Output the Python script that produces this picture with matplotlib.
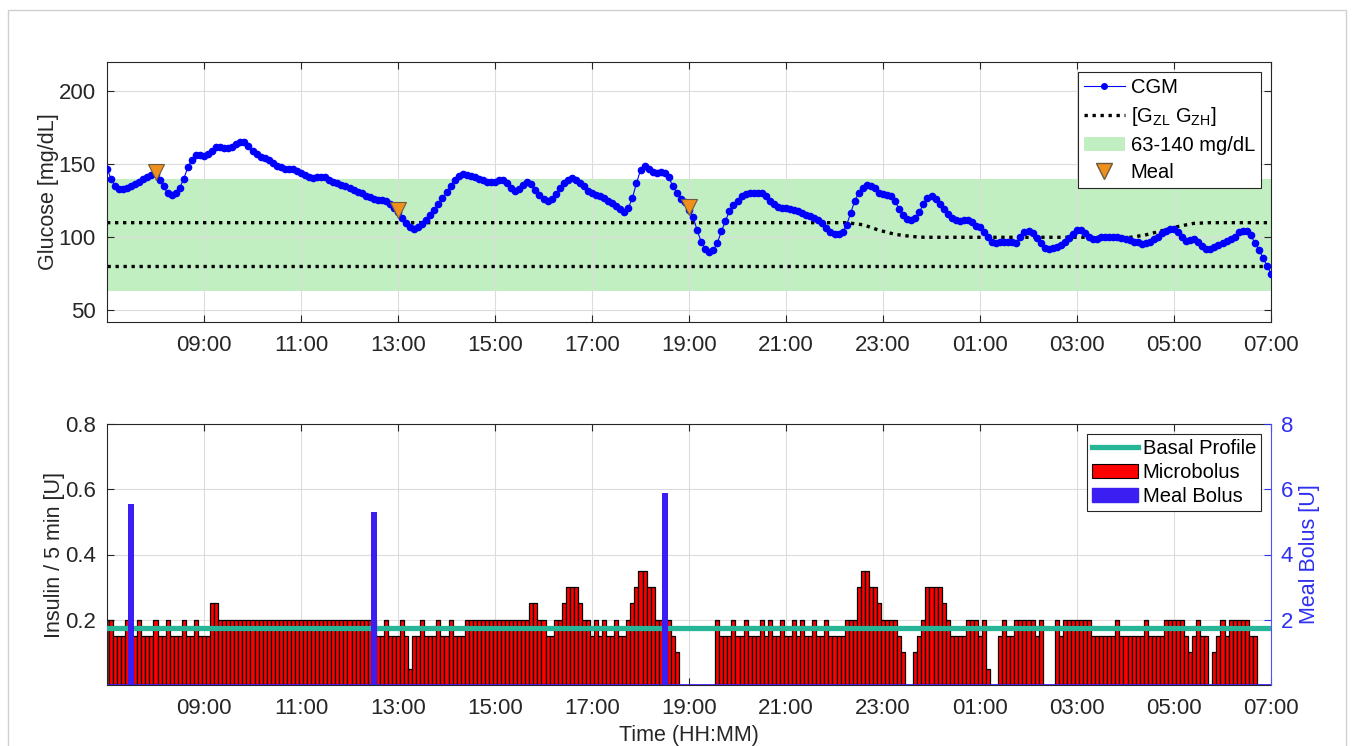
import numpy as np
import matplotlib
matplotlib.use('Agg')
import matplotlib.pyplot as plt
from matplotlib.lines import Line2D
from matplotlib.patches import Patch, Rectangle

plt.rcParams['font.family'] = ['Liberation Sans', 'DejaVu Sans']
plt.rcParams['mathtext.fontset'] = 'custom'
plt.rcParams['mathtext.rm'] = 'Liberation Sans'
plt.rcParams['mathtext.it'] = 'Liberation Sans'

# ---------------- data ----------------
# CGM every 5 min from 07:00 to 07:00 next day (mg/dL), one row per hour
cgm = [
    147, 140, 135, 133, 133, 134, 135, 136.5, 138, 140, 141.5, 142.5,
    143, 139, 135, 130, 129, 130, 134, 140, 148, 153, 156, 156,
    155.5, 157, 159, 161.5, 162, 161, 161, 162, 164, 165, 165, 162.5,
    159, 157, 155, 154.5, 153, 151, 149, 148, 147, 146.5, 146.5, 145.5,
    144, 142.5, 141.5, 140.5, 141, 141, 141, 139, 138, 137, 135.5, 135,
    134, 132.5, 131, 130, 128.5, 127.5, 126.5, 125.5, 125.5, 125, 122.5, 120,
    117, 113, 110, 107, 106, 107, 109, 112, 115, 119, 123, 127,
    131, 135, 139, 142, 143, 142.5, 142, 141, 140, 139, 138, 138,
    138, 139, 139, 137, 134, 132, 133, 135.5, 138, 136.5, 132.5, 129,
    126, 125, 126.5, 129.5, 133.5, 137, 139, 140.5, 139.5, 137.5, 135, 131.5,
    130.5, 129, 128, 127, 125, 123.5, 121.5, 119.5, 117.5, 120, 127, 137,
    146, 149, 147, 145, 144, 145, 144, 141, 135, 130.5, 126.5, 124,
    119, 114, 105, 97, 92, 90, 91, 96, 104, 111, 118, 122,
    125, 128, 129.5, 130, 130.5, 130.5, 130, 128, 125, 122.5, 121, 120,
    120, 119.5, 119, 118, 116.5, 115.5, 114.5, 113.5, 112, 110, 106.5, 103.5,
    102, 102, 103.5, 108.5, 116.5, 125, 130.5, 134, 136, 135, 133.5, 130.5,
    129.5, 129, 128.5, 124.5, 119.5, 115.5, 112.5, 112, 113.5, 117, 123, 127,
    128, 126.5, 123, 119.5, 116, 113.5, 111.5, 111, 111.5, 111.5, 110.5, 108,
    107, 103.5, 100, 97, 96, 96.5, 97, 97, 96.5, 96, 100, 103.5,
    104, 103, 99.5, 96, 93, 92, 92.5, 93.5, 94.5, 97, 99.5, 102.5,
    105, 105, 103, 100.5, 99, 99, 100, 100, 100, 100, 100, 99.5,
    99, 98, 97, 96.5, 95.5, 96, 97, 98.5, 100.5, 103, 104.5, 105.5,
    105.5, 103.5, 100, 97.5, 98, 98.5, 97, 94, 92, 92, 93.5, 95,
    96, 97.5, 99, 100.5, 103.5, 104.5, 104, 101.5, 96, 91.5, 86, 80.5,
    75,
]

# Microbolus every 5 min [U]
microbolus = [
    0.2, 0.2, 0.15, 0.15, 0.15, 0.2, 0.15, 0.15, 0.2, 0.15, 0.15, 0.15,
    0.2, 0.15, 0.15, 0.2, 0.15, 0.15, 0.15, 0.2, 0.15, 0.15, 0.2, 0.15,
    0.15, 0.15, 0.25, 0.25, 0.2, 0.2, 0.2, 0.2, 0.2, 0.2, 0.2, 0.2,
    0.2, 0.2, 0.2, 0.2, 0.2, 0.2, 0.2, 0.2, 0.2, 0.2, 0.2, 0.2,
    0.2, 0.2, 0.2, 0.2, 0.2, 0.2, 0.2, 0.2, 0.2, 0.2, 0.2, 0.2,
    0.2, 0.2, 0.2, 0.2, 0.2, 0.2, 0.2, 0.15, 0.15, 0.2, 0.15, 0.15,
    0.15, 0.2, 0.15, 0.05, 0.15, 0.15, 0.2, 0.15, 0.15, 0.15, 0.2, 0.15,
    0.15, 0.2, 0.15, 0.15, 0.15, 0.2, 0.2, 0.2, 0.2, 0.2, 0.2, 0.2,
    0.2, 0.2, 0.2, 0.2, 0.2, 0.2, 0.2, 0.2, 0.2, 0.25, 0.25, 0.2,
    0.2, 0.15, 0.15, 0.2, 0.2, 0.25, 0.3, 0.3, 0.3, 0.25, 0.2, 0.2,
    0.15, 0.2, 0.15, 0.2, 0.15, 0.15, 0.2, 0.15, 0.15, 0.2, 0.25, 0.3,
    0.35, 0.35, 0.3, 0.3, 0.2, 0.2, 0.2, 0.2, 0.15, 0.1, 0, 0,
    0, 0, 0, 0, 0, 0, 0, 0.2, 0.15, 0.15, 0.15, 0.2,
    0.15, 0.15, 0.2, 0.15, 0.15, 0.15, 0.2, 0.15, 0.2, 0.15, 0.15, 0.2,
    0.15, 0.15, 0.2, 0.15, 0.2, 0.15, 0.15, 0.2, 0.15, 0.15, 0.2, 0.15,
    0.15, 0.15, 0.15, 0.2, 0.2, 0.2, 0.3, 0.35, 0.35, 0.3, 0.3, 0.25,
    0.2, 0.2, 0.2, 0.2, 0.15, 0.1, 0, 0, 0.1, 0.15, 0.2, 0.3,
    0.3, 0.3, 0.3, 0.25, 0.2, 0.15, 0.15, 0.15, 0.15, 0.2, 0.2, 0.2,
    0.15, 0.2, 0.05, 0, 0, 0.15, 0.2, 0.15, 0.15, 0.2, 0.2, 0.2,
    0.2, 0.2, 0.15, 0.2, 0, 0, 0, 0.2, 0.15, 0.2, 0.2, 0.2,
    0.2, 0.2, 0.2, 0.2, 0.15, 0.15, 0.15, 0.15, 0.15, 0.15, 0.2, 0.15,
    0.15, 0.15, 0.15, 0.15, 0.15, 0.2, 0.15, 0.15, 0.15, 0.15, 0.2, 0.2,
    0.2, 0.2, 0.2, 0.15, 0.1, 0.15, 0.2, 0.15, 0.15, 0, 0.1, 0.15,
    0.2, 0.15, 0.2, 0.2, 0.2, 0.2, 0.2, 0.15, 0.15, 0, 0, 0,
    0,
]

basal = 0.175                      # U / 5 min
meal_idx = [12, 72, 144]           # 08:00, 13:00, 19:00 (CGM sample index)
bolus_time = [7.5, 12.5, 18.5]     # hours
bolus_units = [5.55, 5.3, 5.9]

zone_time = [7, 22.25, 22.6, 22.9, 23.25, 23.6, 23.85, 28.1, 28.4, 28.75, 29.1, 29.4, 29.75, 31]
zone_high = [110, 110, 108.5, 105, 102, 100.5, 100, 100, 101.5, 104.5, 107.5, 109.5, 110, 110]
zone_low = 80
range_lo, range_hi = 63, 140

xtick_pos = [9, 11, 13, 15, 17, 19, 21, 23, 25, 27, 29, 31]
xtick_labels = ['09:00', '11:00', '13:00', '15:00', '17:00', '19:00',
                '21:00', '23:00', '01:00', '03:00', '05:00', '07:00']

# ---------------- figure ----------------
FS = 15.5
TFS = 16
LFS = 14.5
TXT = '#262626'
fig = plt.figure(figsize=(13.54, 7.46), dpi=100)
fig.patches.append(Rectangle((8 / 1354, -0.01), 1338 / 1354, 1 - 10 / 746 + 0.01,
                             transform=fig.transFigure, fill=False,
                             edgecolor='#d0d0d0', lw=1, zorder=0))
ax1 = fig.add_axes([107 / 1354, 1 - 322 / 746, 1164 / 1354, 260 / 746])
axb = fig.add_axes([107 / 1354, 1 - 685 / 746, 1164 / 1354, 261 / 746])

t_cgm = 7 + np.arange(len(cgm)) * 5 / 60
t_mb = 7 + np.arange(len(microbolus)) * 5 / 60
cgm_arr = np.array(cgm)
mb_arr = np.array(microbolus)

# ---- top ----
ax1.axhspan(range_lo, range_hi, color='#c2efc2', zorder=0.2, lw=0)
ax1.plot(zone_time, zone_high, color='black', lw=2.4, ls=(0, (1, 1.4)), zorder=2)
ax1.plot([7, 31], [zone_low, zone_low], color='black', lw=2.4, ls=(0, (1, 1.4)), zorder=2)
ax1.plot(t_cgm, cgm_arr, color='#0000ff', lw=0.8, marker='o', ms=4.5, zorder=3)
ax1.plot(t_cgm[meal_idx], cgm_arr[meal_idx] + 1.5, 'v', color='#f0901c', ms=11,
         mec='#6a5a40', mew=0.8, zorder=4)
ax1.set_xlim(7, 31)
ax1.set_ylim(42, 220)
ax1.set_yticks([50, 100, 150, 200])
ax1.set_ylabel('Glucose [mg/dL]', fontsize=FS, color=TXT, labelpad=0)

leg1_handles = [
    Line2D([], [], color='#0000ff', lw=0.8, marker='o', ms=4),
    Line2D([], [], color='black', lw=2.4, ls=(0, (1, 1.4))),
    Patch(facecolor='#c2efc2', edgecolor='none'),
    Line2D([], [], ls='none', marker='v', color='#f0901c', mec='#6a5a40', ms=11),
]
leg1_labels = ['CGM', r'[G$_{\rm ZL}$ G$_{\rm ZH}$]', '63-140 mg/dL', 'Meal']
leg1 = ax1.legend(leg1_handles, leg1_labels, loc='upper right', fontsize=LFS,
                  fancybox=False, framealpha=1, edgecolor='#262626',
                  borderaxespad=0.5, handlelength=2.0, labelspacing=0.4,
                  handletextpad=0.3, borderpad=0.3)
leg1.get_frame().set_linewidth(0.8)

# ---- bottom ----
nz = mb_arr > 0
axb.bar(t_mb[nz], mb_arr[nz], width=5 / 60, color='#ff0000', edgecolor='black',
        linewidth=0.9, zorder=2)
axb.axhline(basal, color='#27b598', lw=3.8, zorder=3)
axb.set_xlim(7, 31)
axb.set_ylim(0, 0.8)
axb.set_yticks([0.2, 0.4, 0.6, 0.8])
axb.set_yticklabels(['0.2', '0.4', '0.6', '0.8'])
axb.set_ylabel('Insulin / 5 min [U]', fontsize=FS, color=TXT, labelpad=0)
axb.set_xlabel('Time (HH:MM)', fontsize=FS, color=TXT, labelpad=5)

ax2 = axb.twinx()
BLUE = '#3b1ff2'
ax2.bar(bolus_time, bolus_units, width=0.13, color=BLUE, zorder=3)
ax2.axhline(0, color=BLUE, lw=2, zorder=4)
ax2.set_ylim(0, 8)
ax2.set_yticks([2, 4, 6, 8])
ax2.set_ylabel('Meal Bolus [U]', fontsize=FS, color='#2f2ff0', labelpad=4)
ax2.tick_params(axis='y', direction='in', colors='#2f2ff0', labelsize=TFS,
                length=5, pad=7)
ax2.spines['right'].set_color('#5050ff')
for s in ['top', 'left', 'bottom']:
    ax2.spines[s].set_visible(False)

leg2_handles = [
    Line2D([], [], color='#27b598', lw=3.8),
    Patch(facecolor='#ff0000', edgecolor='black', linewidth=0.8),
    Patch(facecolor=BLUE, edgecolor=BLUE),
]
leg2 = ax2.legend(leg2_handles, ['Basal Profile', 'Microbolus', 'Meal Bolus'],
                  loc='upper right', fontsize=LFS, fancybox=False, framealpha=1,
                  edgecolor='#262626', borderaxespad=0.5, handlelength=2.3,
                  labelspacing=0.25, handletextpad=0.2, borderpad=0.25)
leg2.get_frame().set_linewidth(0.8)

for ax in (ax1, axb):
    ax.set_xticks(xtick_pos)
    ax.set_xticklabels(xtick_labels)
    ax.grid(True, color='#dcdcdc', lw=0.8)
    ax.set_axisbelow(True)
    ax.tick_params(direction='in', labelsize=TFS, colors=TXT, length=5, top=True)
    ax.tick_params(axis='x', pad=9)
    ax.tick_params(axis='y', pad=8)
    for s in ax.spines.values():
        s.set_color('#262626')
        s.set_linewidth(0.8)
ax1.tick_params(right=True)
axb.tick_params(axis='y', right=False)
axb.spines['right'].set_visible(False)

fig.savefig('out.png', dpi=100)
